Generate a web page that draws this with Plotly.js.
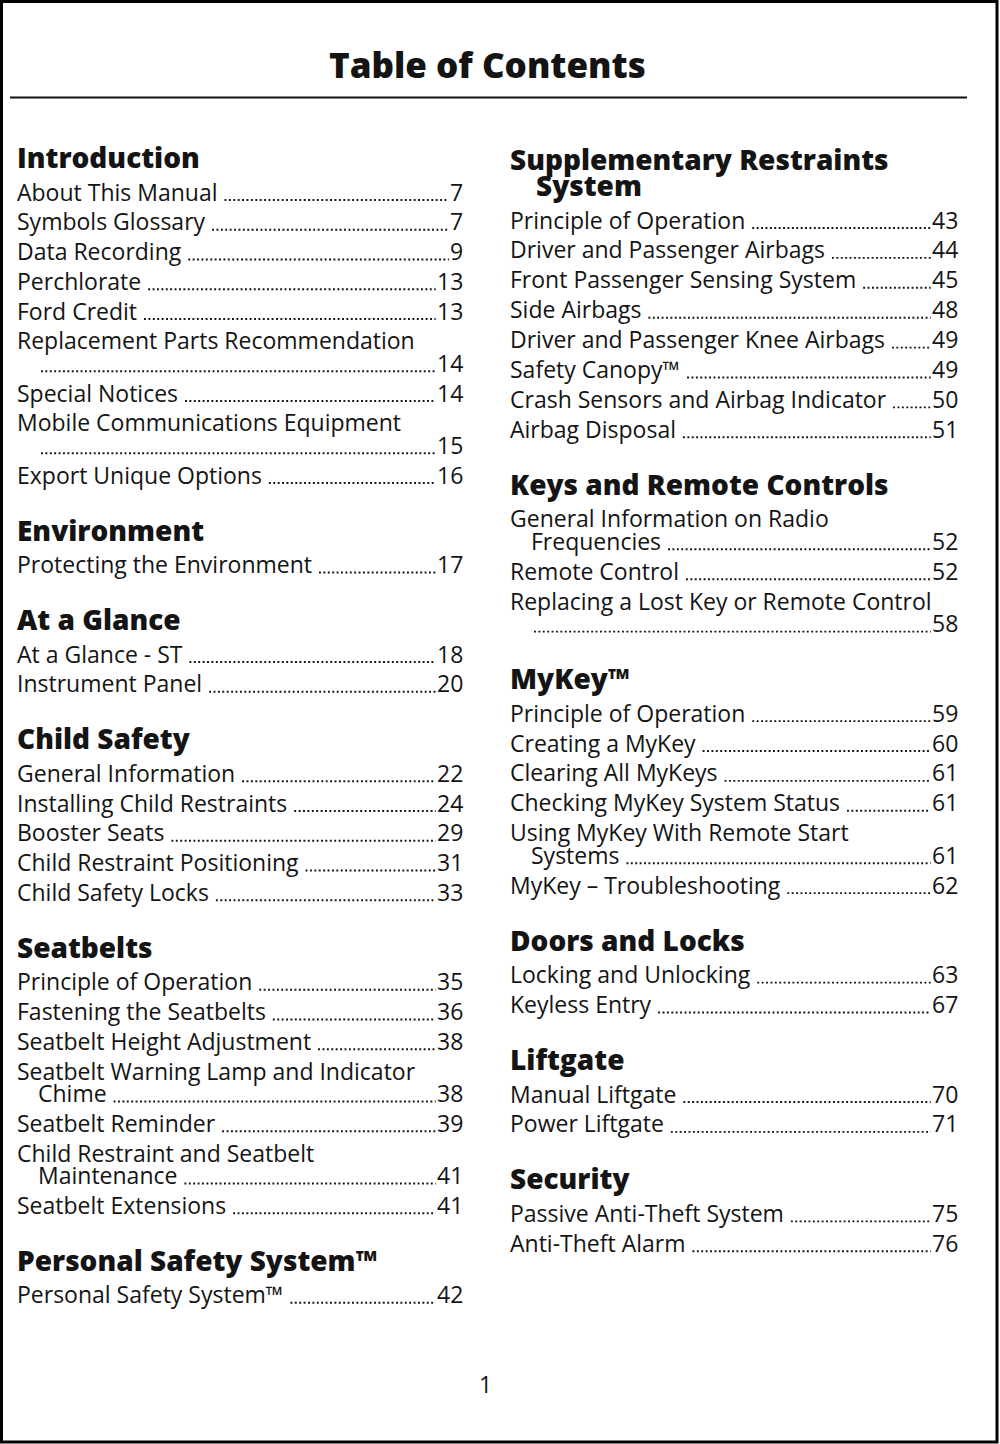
<!DOCTYPE html>
<html>
<head>
<meta charset="utf-8">
<script src="https://cdn.plot.ly/plotly-3.0.1.min.js"></script>
<style>html,body{margin:0;padding:0;background:#fff;}#toc{width:1000px;height:1444px;}</style>
</head>
<body>
<div id="toc"></div>
<script>
// ---------- DATA ----------
const pageTitle = "Table of Contents";
const pageNumber = "1";

const leftHeadings = ["Introduction", "Environment", "At a Glance", "Child Safety", "Seatbelts", "Personal Safety System™"];
const leftEntries = [
  "About This Manual", "Symbols Glossary", "Data Recording", "Perchlorate", "Ford Credit",
  "Replacement Parts Recommendation\n", "Special Notices", "Mobile Communications Equipment\n", "Export Unique Options",
  "Protecting the Environment",
  "At a Glance - ST", "Instrument Panel",
  "General Information", "Installing Child Restraints", "Booster Seats", "Child Restraint Positioning", "Child Safety Locks",
  "Principle of Operation", "Fastening the Seatbelts", "Seatbelt Height Adjustment", "Seatbelt Warning Lamp and Indicator\nChime",
  "Seatbelt Reminder", "Child Restraint and Seatbelt\nMaintenance", "Seatbelt Extensions",
  "Personal Safety System™"
];
const leftPages = [
  "7", "7", "9", "13", "13", "14", "14", "15", "16",
  "17",
  "18", "20",
  "22", "24", "29", "31", "33",
  "35", "36", "38", "38", "39", "41", "41",
  "42"
];
const leftSection = [0,0,0,0,0,0,0,0,0, 1, 2,2, 3,3,3,3,3, 4,4,4,4,4,4,4, 5];

const rightHeadings = ["Supplementary Restraints\nSystem", "Keys and Remote Controls", "MyKey™", "Doors and Locks", "Liftgate", "Security"];
const rightEntries = [
  "Principle of Operation", "Driver and Passenger Airbags", "Front Passenger Sensing System", "Side Airbags",
  "Driver and Passenger Knee Airbags", "Safety Canopy™", "Crash Sensors and Airbag Indicator", "Airbag Disposal",
  "General Information on Radio\nFrequencies", "Remote Control", "Replacing a Lost Key or Remote Control\n",
  "Principle of Operation", "Creating a MyKey", "Clearing All MyKeys", "Checking MyKey System Status",
  "Using MyKey With Remote Start\nSystems", "MyKey – Troubleshooting",
  "Locking and Unlocking", "Keyless Entry",
  "Manual Liftgate", "Power Liftgate",
  "Passive Anti-Theft System", "Anti-Theft Alarm"
];
const rightPages = [
  "43", "44", "45", "48", "49", "49", "50", "51",
  "52", "52", "58",
  "59", "60", "61", "61", "61", "62",
  "63", "67",
  "70", "71",
  "75", "76"
];
const rightSection = [0,0,0,0,0,0,0,0, 1,1,1, 2,2,2,2,2,2, 3,3, 4,4, 5,5];

// ---------- STYLE ----------
const FAMILY = '"Open Sans", "Noto Sans", sans-serif';
const INK = "#141414";
const BODY_SIZE = 23, HEAD_SIZE = 28, TITLE_SIZE = 35;
const HEAD_WEIGHT = 800;
const TEXT_DY = -0.5;

const canvas = document.createElement("canvas");
const ctx = canvas.getContext("2d");
function textWidth(txt, size, weight) {
  ctx.font = (weight || "normal") + " " + size + "px " + FAMILY;
  return ctx.measureText(txt).width;
}

const annotations = [];
const shapes = [];

function addText(txt, x, y, size, weight, anchor) {
  annotations.push({
    text: txt, x: x, y: y + TEXT_DY, xref: "x", yref: "y",
    xanchor: anchor || "left", yanchor: "middle", showarrow: false,
    font: {family: FAMILY, size: size, color: INK, weight: weight || "normal"}
  });
}

function layoutColumn(headings, entries, pages, section, x0, xRight, yStart, entryStep) {
  const HEAD_WRAP = 26.5, HEAD_TO_ENTRY = 34.5, WRAP_STEP = 22.5, ENTRY_TO_HEAD = 55;
  const HEAD_INDENT = 26, ENTRY_INDENT = 21;
  let y = yStart;
  headings.forEach((h, s) => {
    if (s > 0) y += ENTRY_TO_HEAD;
    h.split("\n").forEach((line, i) => {
      if (i > 0) y += HEAD_WRAP;
      addText(line, i > 0 ? x0 + HEAD_INDENT : x0, y, HEAD_SIZE, HEAD_WEIGHT);
    });
    y += HEAD_TO_ENTRY - entryStep;
    entries.forEach((e, k) => {
      if (section[k] !== s) return;
      y += entryStep;
      const lines = e.split("\n");
      lines.forEach((line, i) => {
        if (i > 0) y += WRAP_STEP;
        const lx = i > 0 ? x0 + ENTRY_INDENT : x0;
        if (line.length) addText(line, lx, y, BODY_SIZE, "normal");
        if (i === lines.length - 1) {
          addText(pages[k], xRight, y, BODY_SIZE, "normal", "right");
          const tw = line.length ? textWidth(line, BODY_SIZE) + 9 : 5;
          const pw = textWidth(pages[k], BODY_SIZE);
          shapes.push({
            type: "line", xref: "x", yref: "y",
            x0: lx + tw, x1: xRight - pw - 3, y0: y + 8, y1: y + 8,
            line: {color: INK, width: 1.9, dash: "1.9px,2.5px"}
          });
        }
      });
    });
  });
}

layoutColumn(leftHeadings, leftEntries, leftPages, leftSection, 15, 465, 157.5, 29.75);
layoutColumn(rightHeadings, rightEntries, rightPages, rightSection, 508, 960, 159, 29.9);

addText(pageTitle, 487.5, 65, TITLE_SIZE, HEAD_WEIGHT, "center");
addText(pageNumber, 485, 1384, BODY_SIZE, "normal", "center");

// title rule
shapes.push({type: "line", xref: "x", yref: "y", x0: 10, x1: 967, y0: 97.5, y1: 97.5, line: {color: "#111", width: 2}});
// page frame
shapes.push({type: "rect", xref: "x", yref: "y", x0: 1.5, x1: 997, y0: 1.5, y1: 1442, line: {color: "#000", width: 3}});

const layout = {
  width: 1000, height: 1444,
  margin: {l: 0, r: 0, t: 0, b: 0, pad: 0},
  paper_bgcolor: "#ffffff", plot_bgcolor: "#ffffff",
  xaxis: {range: [0, 1000], visible: false, fixedrange: true},
  yaxis: {range: [1444, 0], visible: false, fixedrange: true},
  showlegend: false,
  annotations: annotations,
  shapes: shapes
};

Plotly.newPlot("toc", [], layout, {staticPlot: true, displayModeBar: false});
</script>
</body>
</html>
